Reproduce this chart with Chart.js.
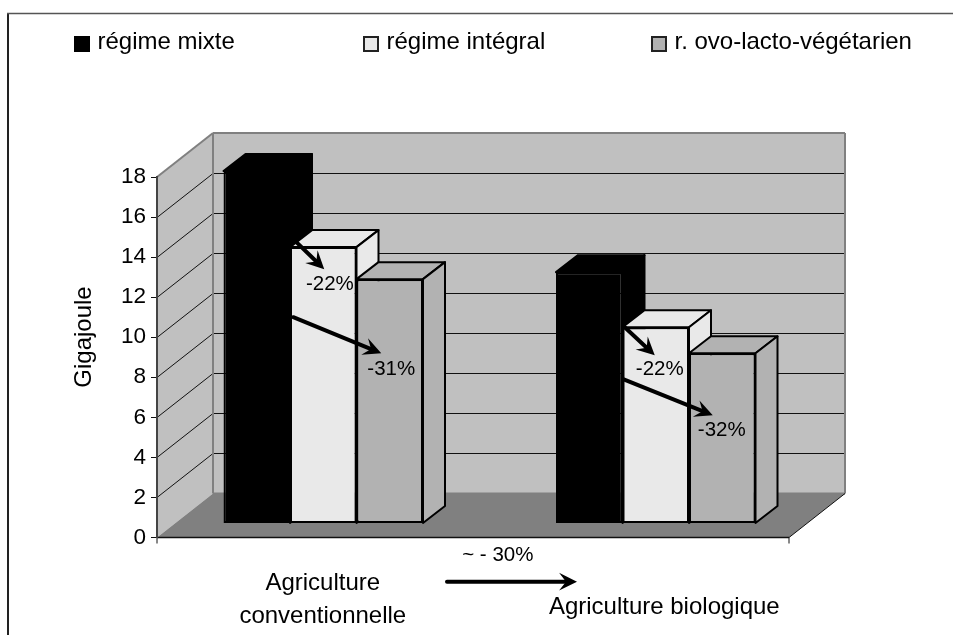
<!DOCTYPE html>
<html>
<head>
<meta charset="utf-8">
<style>
  html, body { margin: 0; padding: 0; background: #fff; }
  #wrap { width: 953px; height: 635px; }
</style>
<script src="https://cdn.jsdelivr.net/npm/chart.js@4"></script>
</head>
<body>
<div id="wrap"><canvas id="chart" width="953" height="635"></canvas></div>
<script>
const categories = ['Agriculture conventionnelle', 'Agriculture biologique'];
const seriesNames = ['régime mixte', 'régime intégral', 'r. ovo-lacto-végétarien'];
const regimeMixte = [17.6, 12.55];
const regimeIntegral = [13.8, 9.8];
const regimeOvoLacto = [12.2, 8.5];
const seriesColors = ['#000000', '#e9e9e9', '#b2b2b2'];
const axisTitle = 'Gigajoule';

// Arrows between the bars: group, x offset from the group centre (px), value
const arrowGroups = [0, 0, 1, 1];
const arrowStartDx = [-30, -30, -31, -32];
const arrowStartVal = [14.2, 10.3, 9.8, 7.2];
const arrowEndDx = [1, 58, -1, 57];
const arrowEndVal = [12.7, 8.5, 8.4, 5.4];
const gainLabels = ['-22%', '-31%', '-22%', '-32%'];
const gainDx = [6.6, 68, 4, 66];
const gainVal = [11.94, 7.7, 7.7, 4.66];
const organicGain = '~ - 30%';

const FAMILY = '"Liberation Sans", Arial, sans-serif';
const FONT = '24px ' + FAMILY;
const SMALL_FONT = '20.5px ' + FAMILY;

// 3D look
const WALL = { dx: 56, dy: -44 };
const PLANE_DY = -14;   // bars stand this far behind the front edge
const BAR_DEPTH = { dx: 22, dy: -17 };
const FRONT_RIGHT = 789;

function poly(ctx, pts, fill, stroke, lw) {
    ctx.beginPath();
    pts.forEach((p, i) => i ? ctx.lineTo(p[0], p[1]) : ctx.moveTo(p[0], p[1]));
    ctx.closePath();
    if (fill) { ctx.fillStyle = fill; ctx.fill(); }
    if (stroke) { ctx.strokeStyle = stroke; ctx.lineWidth = lw; ctx.lineJoin = 'round'; ctx.stroke(); }
}

function seg(ctx, x1, y1, x2, y2, color, lw) {
    ctx.beginPath();
    ctx.moveTo(x1, y1);
    ctx.lineTo(x2, y2);
    ctx.strokeStyle = color;
    ctx.lineWidth = lw;
    ctx.stroke();
}

function arrow(ctx, x1, y1, x2, y2) {
    const a = Math.atan2(y2 - y1, x2 - x1);
    const len = 20, back = 11, spread = 0.46;
    ctx.save();
    ctx.lineCap = 'round';
    seg(ctx, x1, y1, x2 - back * Math.cos(a), y2 - back * Math.sin(a), '#000', 4);
    ctx.beginPath();
    ctx.moveTo(x2, y2);
    ctx.lineTo(x2 - len * Math.cos(a - spread), y2 - len * Math.sin(a - spread));
    ctx.lineTo(x2 - back * Math.cos(a), y2 - back * Math.sin(a));
    ctx.lineTo(x2 - len * Math.cos(a + spread), y2 - len * Math.sin(a + spread));
    ctx.closePath();
    ctx.fillStyle = '#000';
    ctx.fill();
    ctx.restore();
}

const scene3d = {
    id: 'scene3d',
    beforeDraw(chart) {
        const { ctx, scales: { y } } = chart;
        const left = y.right, top = y.getPixelForValue(18), bot = y.getPixelForValue(0);
        const bl = left + WALL.dx, bTop = top + WALL.dy, bBot = bot + WALL.dy;
        const br = FRONT_RIGHT + WALL.dx;

        // outer frame (left and top only, the picture is cropped)
        ctx.save();
        seg(ctx, 8, 13, 8, 635, '#222', 2);
        seg(ctx, 7, 13.5, 953, 13.5, '#555', 1.5);

        poly(ctx, [[bl, bTop], [br, bTop], [br, bBot], [bl, bBot]], '#c0c0c0');
        poly(ctx, [[left, top], [bl, bTop], [bl, bBot], [left, bot]], '#c0c0c0');
        poly(ctx, [[left, bot], [bl, bBot], [br, bBot], [FRONT_RIGHT, bot]], '#808080');

        y.ticks.forEach(t => {
            if (t.value === 0 || t.value === 18) return;
            const py = Math.round(y.getPixelForValue(t.value)) + 0.5;
            seg(ctx, left, py, bl, py + WALL.dy, '#111', 1);
            seg(ctx, bl, py + WALL.dy, br, py + WALL.dy, '#111', 1);
        });

        // wall outlines
        seg(ctx, left, top, bl, bTop, '#808080', 2);
        seg(ctx, bl, bTop, br, bTop, '#808080', 2);
        seg(ctx, bl, bTop, bl, bBot, '#808080', 2);
        seg(ctx, br, bTop, br, bBot, '#808080', 2);
        seg(ctx, bl, bBot, br, bBot, '#808080', 2);

        // front edge of the floor
        seg(ctx, left, bot, FRONT_RIGHT, bot, '#111', 1.5);
        seg(ctx, left, bot, left, bot + 6, '#111', 1);
        seg(ctx, FRONT_RIGHT, bot, FRONT_RIGHT, bot + 6, '#111', 1);
        seg(ctx, FRONT_RIGHT, bot, br, bBot, '#111', 1);
        ctx.restore();
    },
    beforeDatasetsDraw(chart) {
        const ctx = chart.ctx;
        ctx.save();
        ctx.translate(0, PLANE_DY);
        // left to right, so each bar hides the side of its neighbour
        chart.data.datasets.forEach((ds, i) => {
            chart.getDatasetMeta(i).data.forEach(bar => {
                const { x, y, base, width } = bar.getProps(['x', 'y', 'base', 'width']);
                const l = x - width / 2, r = x + width / 2;
                const edge = ds.backgroundColor;
                const d = BAR_DEPTH;
                poly(ctx, [[l, y], [l + d.dx, y + d.dy], [r + d.dx, y + d.dy], [r, y]], edge, '#000', 2);
                poly(ctx, [[r, y], [r + d.dx, y + d.dy], [r + d.dx, base + d.dy], [r, base]], edge, '#000', 2);
                bar.draw(ctx);
            });
        });
        ctx.restore();
        return false;
    },
    afterDraw(chart) {
        const { ctx, scales: { x, y } } = chart;
        const px = (g, dx) => x.getPixelForValue(g) + dx;
        const py = v => y.getPixelForValue(v) + PLANE_DY;
        ctx.save();
        ctx.font = FONT;
        ctx.fillStyle = '#000';
        ctx.textBaseline = 'middle';

        // legend
        const legendX = [74, 363, 651];
        seriesNames.forEach((name, i) => {
            ctx.fillStyle = seriesColors[i];
            ctx.fillRect(legendX[i] + 1, 37, 14, 14);
            ctx.strokeStyle = i ? '#222' : '#000';
            ctx.lineWidth = 2;
            ctx.strokeRect(legendX[i] + 1, 37, 14, 14);
            ctx.fillStyle = '#000';
            ctx.textAlign = 'left';
            ctx.fillText(name, legendX[i] + 23.5, 42);
        });

        // axis title
        ctx.save();
        ctx.translate(84.5, 337);
        ctx.rotate(-Math.PI / 2);
        ctx.textAlign = 'center';
        ctx.fillText(axisTitle, 0, 0);
        ctx.restore();

        // arrows and percentages on the bars
        ctx.font = SMALL_FONT;
        arrowGroups.forEach((g, i) => {
            arrow(ctx, px(g, arrowStartDx[i]), py(arrowStartVal[i]), px(g, arrowEndDx[i]), py(arrowEndVal[i]));
            ctx.textAlign = 'center';
            ctx.fillText(gainLabels[i], px(g, gainDx[i]), py(gainVal[i]));
        });

        // category captions
        ctx.font = FONT;
        ctx.textAlign = 'center';
        ctx.fillText('Agriculture', 322.8, 583.4);
        ctx.fillText('conventionnelle', 322.8, 616.7);
        ctx.fillText(categories[1], 664.3, 607.4);

        arrow(ctx, 447, 581.7, 577, 581.7);
        ctx.font = SMALL_FONT;
        ctx.fillText(organicGain, 497.8, 555.6);
        ctx.restore();
    }
};

new Chart(document.getElementById('chart'), {
    type: 'bar',
    data: {
        labels: categories,
        datasets: [
            { label: seriesNames[0], data: regimeMixte, backgroundColor: seriesColors[0] },
            { label: seriesNames[1], data: regimeIntegral, backgroundColor: seriesColors[1] },
            { label: seriesNames[2], data: regimeOvoLacto, backgroundColor: seriesColors[2] }
        ]
    },
    options: {
        responsive: false,
        animation: false,
        layout: { padding: { left: 7, right: 131, top: 177, bottom: 97.5 } },
        datasets: {
            bar: {
                barPercentage: 1,
                categoryPercentage: 0.6,
                borderColor: '#000',
                borderWidth: 2,
                borderSkipped: false
            }
        },
        plugins: { legend: { display: false }, tooltip: { enabled: false } },
        scales: {
            x: { display: false },
            y: {
                min: 0,
                max: 18,
                afterFit: s => { s.width = 150; },
                ticks: { stepSize: 2, color: '#000', font: { family: FAMILY, size: 22.5 }, padding: 5 },
                grid: { drawOnChartArea: false, tickLength: 6, color: '#111' },
                border: { color: '#444', width: 2 }
            }
        }
    },
    plugins: [scene3d]
});
</script>
</body>
</html>
